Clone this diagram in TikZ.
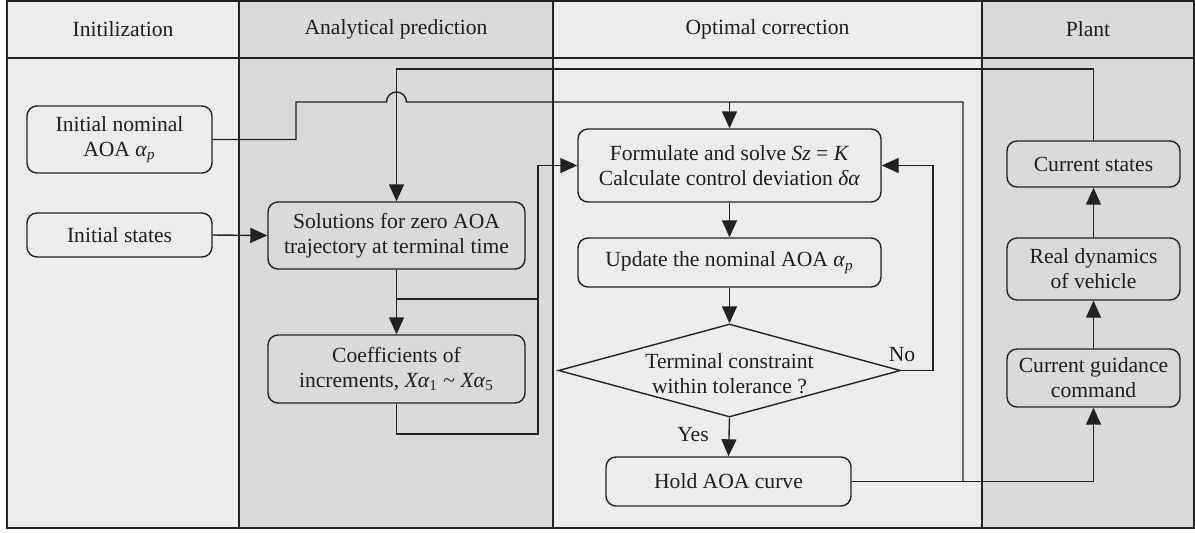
\documentclass[tikz,border=0pt]{standalone}
\usepackage{fontspec}
\setmainfont{Liberation Serif}
\usetikzlibrary{arrows.meta,shapes.geometric}
\definecolor{lite}{HTML}{ECECEC}
\definecolor{dark}{HTML}{D9D9D9}
\definecolor{ln}{HTML}{222222}
\definecolor{txt}{HTML}{1E1E1E}
\begin{document}
\begin{tikzpicture}[x=0.5pt,y=-0.5pt,
  every node/.style={font=\fontsize{10.8}{12.5}\selectfont, text=txt},
  lin/.style={draw=ln, line width=0.7pt},
  frame/.style={draw=ln, line width=0.95pt},
  arr/.style={lin, -{Triangle[length=8.5pt,width=7.5pt]}},
  box/.style n args={3}{draw=ln, line width=0.7pt, rounded corners=5pt, align=center,
     inner sep=0pt, fill=#1, minimum width=#2*0.5pt, minimum height=#3*0.5pt},
  dia/.style={draw=ln, line width=0.7pt, diamond, inner sep=0pt, fill=lite,
     minimum width=171pt, minimum height=46.5pt},
  head/.style={anchor=center}
 ]
\useasboundingbox (0,0) rectangle (1195,532);
% columns
\fill[lite] (7,1) rectangle (239,528);
\fill[dark] (239,1) rectangle (553,528);
\fill[lite] (553,1) rectangle (982,528);
\fill[dark] (982,1) rectangle (1194,528);
\draw[frame] (7,1) rectangle (1194,528);
\draw[frame] (239,1) -- (239,528);
\draw[frame] (553,1) -- (553,528);
\draw[frame] (982,1) -- (982,528);
\draw[frame] (7,58) -- (1194,58);
% headers
\node[head] (h1) at (123,29) {Initilization};
\node[head] (h2) at (396,29) {Analytical prediction};
\node[head] (h3) at (767.5,29) {Optimal correction};
\node[head] (h4) at (1088,29) {Plant};
% boxes
\node[box={lite}{185}{67}] (init1) at (119.5,139.5) {Initial nominal\\AOA \textit{α}\textsubscript{\textit{p}}};
\node[box={lite}{185}{44}] (init2) at (119.5,235) {Initial states};
\node[box={dark}{257}{67}] (sol) at (396.5,235.5) {Solutions for zero AOA\\trajectory at terminal time};
\node[box={dark}{257}{68}] (coef) at (396.5,369) {Coefficients of\\increments, \textit{Xα}\textsubscript{1} \textasciitilde{} \textit{Xα}\textsubscript{5}};
\node[box={lite}{303}{73}] (form) at (729.5,165.5) {Formulate and solve \textit{Sz} = \textit{K}\\Calculate control deviation \textit{δα}};
\node[box={lite}{303}{49}] (upd) at (729.5,262.5) {Update the nominal AOA \textit{α}\textsubscript{\textit{p}}};
\node[dia] (dec) at (729.5,370.5) {};
\node[align=center, inner sep=0pt] (dectext) at (729.5,374) {Terminal constraint\\within tolerance ?};
\node[box={lite}{245}{49}] (hold) at (728.5,481.5) {Hold AOA curve};
\node[box={dark}{173}{46}] (cs) at (1093.5,164) {Current states};
\node[box={dark}{173}{62}] (rd) at (1093.5,269) {Real dynamics\\of vehicle};
\node[box={dark}{173}{58}] (cg) at (1093.5,378) {Current guidance\\command};
\node (no) at (902,355) {No};
\node (yes) at (693,435) {Yes};
% helper coordinates
\coordinate (jumpA) at (386.5,102);
\coordinate (fin) at (729.5,102);
\coordinate (rightT) at (963,102);
\coordinate (rightB) at (963,481.5);
\coordinate (loopL) at (396.5,69);
\coordinate (br) at (396.5,299);
\coordinate (busT) at (538,299);
\coordinate (busB) at (538,434);
\coordinate (noR) at (933,370.5);
% connectors
\draw[lin] (init1.east) -| (296,102) -- (jumpA) arc[start angle=180,end angle=0,radius=5pt] -- (rightT) -- (rightB);
\draw[arr] (fin) -- (form.north);
\draw[arr] (cs.north) |- (loopL) -- (sol.north);
\draw[arr] (init2.east) -- (sol.west);
\draw[arr] (sol.south) -- (coef.north);
\draw[lin] (br) -- (busT);
\draw[arr] (coef.south) |- (busB) |- (form.west);
\draw[arr] (form.south) -- (upd.north);
\draw[arr] (upd.south) -- (dec.north);
\draw[arr] (dec.south) -- (hold.north);
\draw[arr] (dec.east) -- (noR) |- (form.east);
\draw[arr] (hold.east) -| (cg.south);
\draw[arr] (cg.north) -- (rd.south);
\draw[arr] (rd.north) -- (cs.south);
\end{tikzpicture}
\end{document}
